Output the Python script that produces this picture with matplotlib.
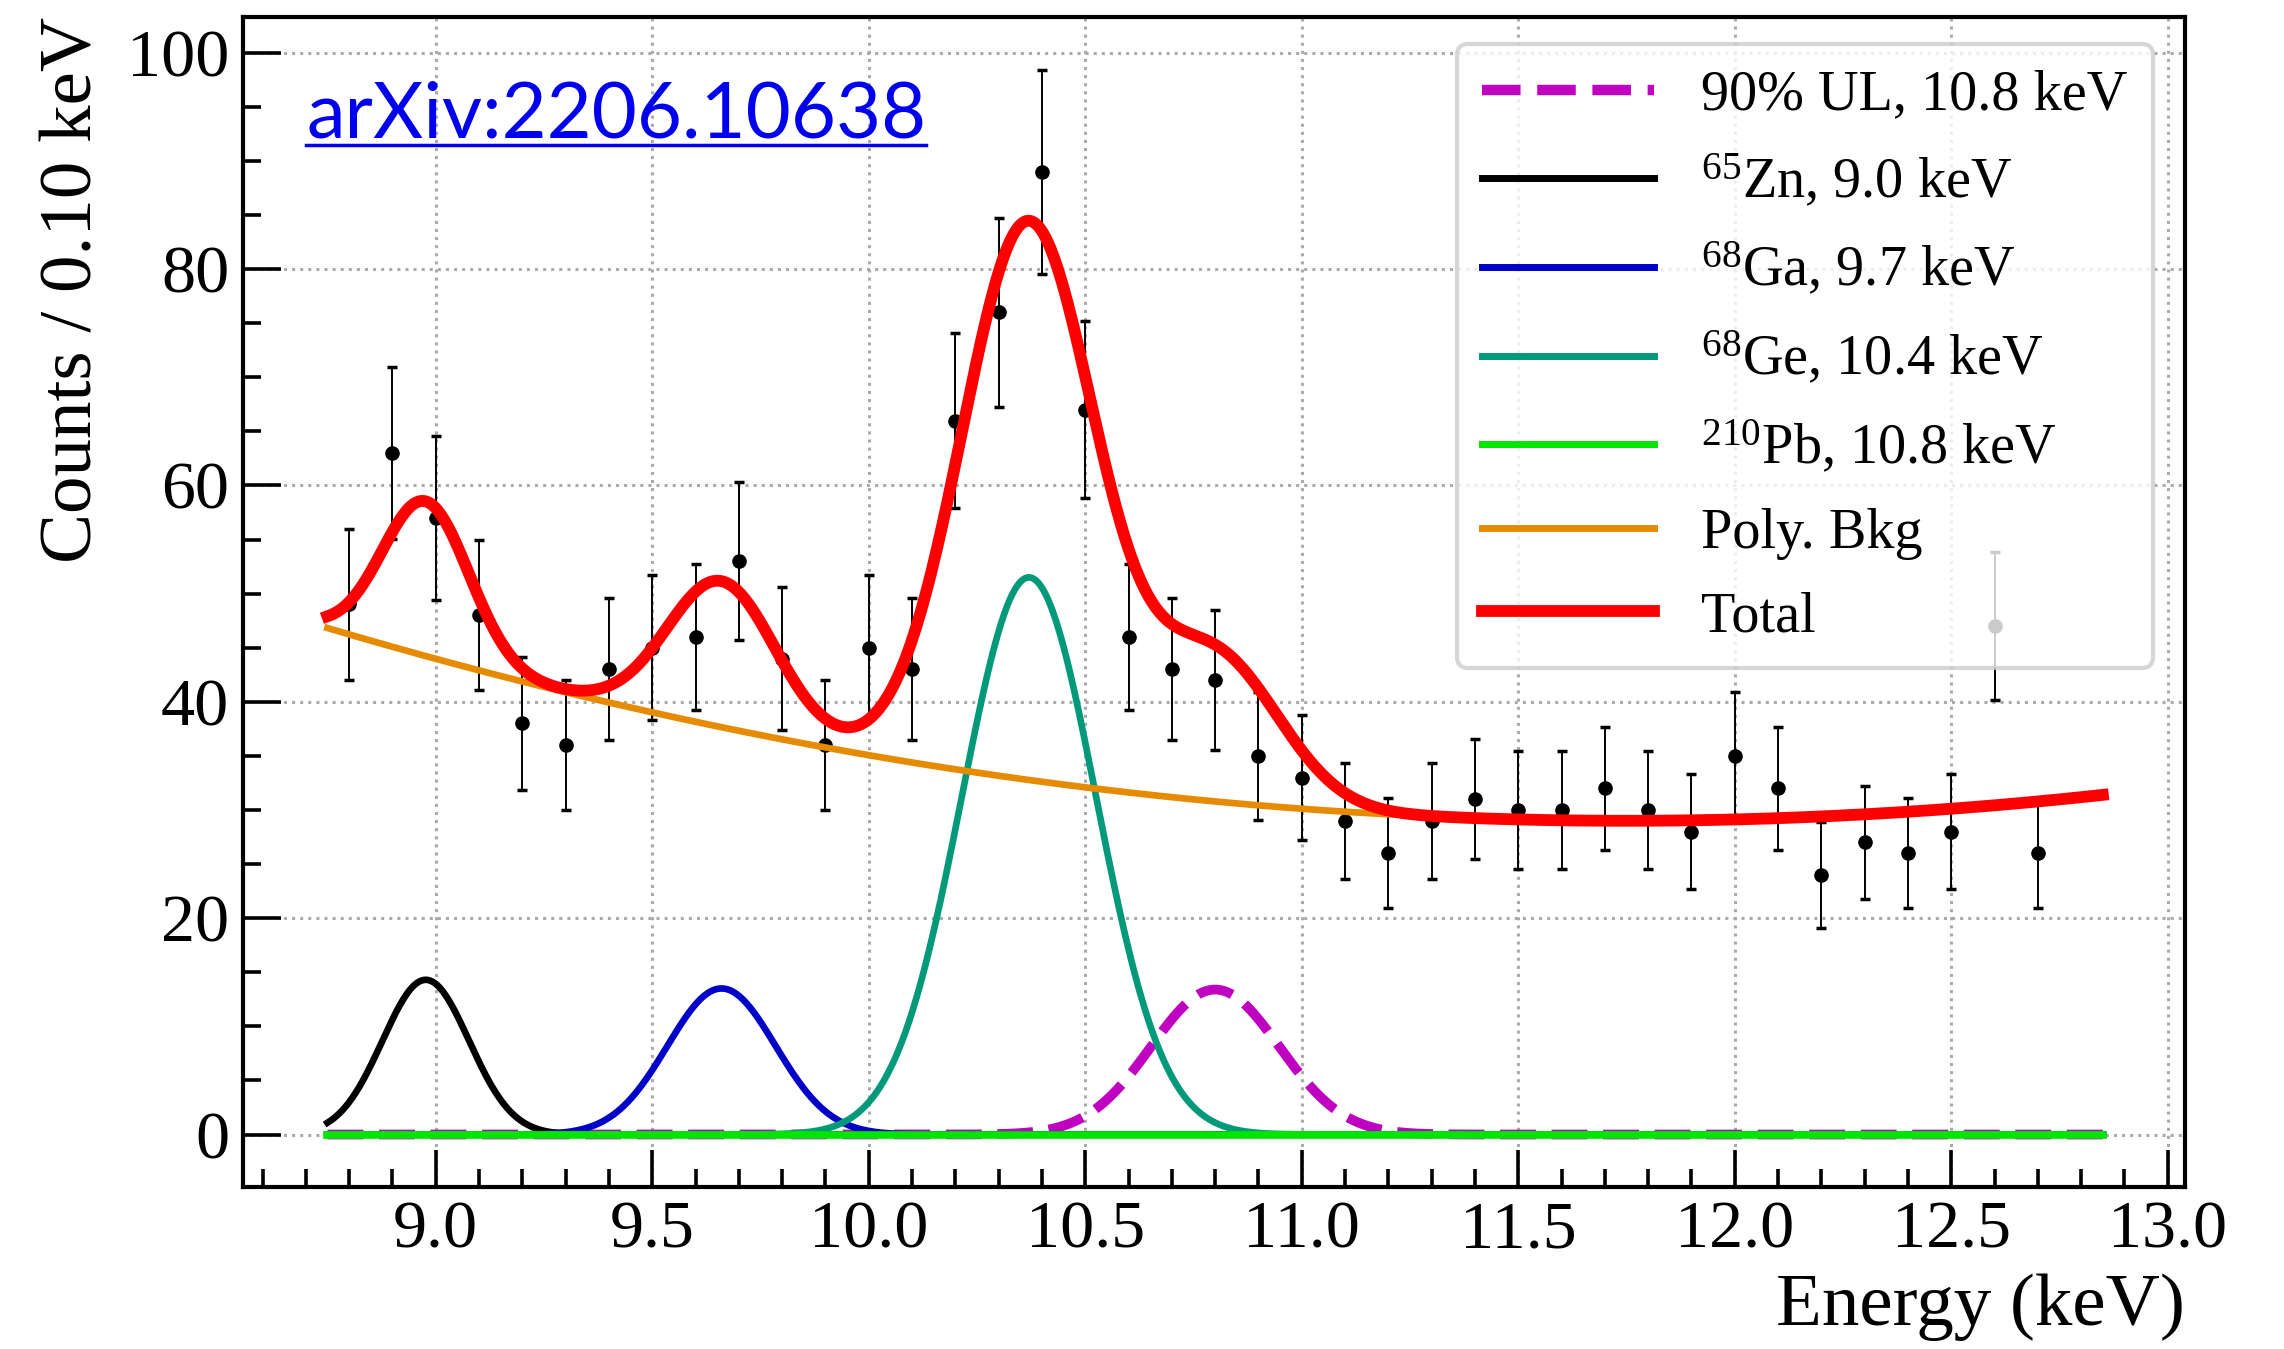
import numpy as np
import matplotlib
matplotlib.use('Agg')
import matplotlib.pyplot as plt
from matplotlib.lines import Line2D
from matplotlib.ticker import MultipleLocator, FormatStrFormatter

plt.rcParams['font.family'] = ['Liberation Serif', 'DejaVu Serif']
plt.rcParams['mathtext.fontset'] = 'custom'
plt.rcParams['mathtext.rm'] = 'Liberation Serif'
plt.rcParams['mathtext.it'] = 'Liberation Serif:italic'

# Binned spectrum, 0.10 keV bins
energy = [8.8, 8.9, 9.0, 9.1, 9.2, 9.3, 9.4, 9.5, 9.6, 9.7,
          9.8, 9.9, 10.0, 10.1, 10.2, 10.3, 10.4, 10.5, 10.6, 10.7,
          10.8, 10.9, 11.0, 11.1, 11.2, 11.3, 11.4, 11.5, 11.6, 11.7,
          11.8, 11.9, 12.0, 12.1, 12.2, 12.3, 12.4, 12.5, 12.6, 12.7]
counts = [49, 63, 57, 48, 38, 36, 43, 45, 46, 53,
          44, 36, 45, 43, 66, 76, 89, 67, 46, 43,
          42, 35, 33, 29, 26, 29, 31, 30, 30, 32,
          30, 28, 35, 32, 24, 27, 26, 28, 47, 26]

# Fitted line parameters: centroid (keV), height (counts/bin), sigma (keV)
zn_pars = [8.977, 14.3, 0.100]
ga_pars = [9.660, 13.5, 0.125]
ge_pars = [10.370, 51.5, 0.155]
pb_pars = [10.800, 0.0, 0.148]
ul_pars = [10.800, 13.4, 0.148]   # 90% upper limit on the 210Pb line

# Quadratic background: minimum value, position of minimum, curvature
bkg_pars = [29.0, 11.75, 1.98]
fit_range = [8.75, 12.85]


def gauss(x, mu, amp, sig):
    return amp * np.exp(-0.5 * ((x - mu) / sig) ** 2)


def poly_bkg(x, b0, x0, b2):
    return b0 + b2 * (x - x0) ** 2


E = np.linspace(fit_range[0], fit_range[1], 1000)
zn = gauss(E, *zn_pars)
ga = gauss(E, *ga_pars)
ge = gauss(E, *ge_pars)
pb = gauss(E, *pb_pars)
ul = gauss(E, *ul_pars)
bkg = poly_bkg(E, *bkg_pars)
total = bkg + zn + ga + ge + ul

c_ul = '#c000c0'
c_zn = 'black'
c_ga = '#0000c8'
c_ge = '#009a7a'
c_pb = '#00e600'
c_bkg = '#e68a00'
c_tot = '#ff0000'

fig = plt.figure(figsize=(22.84, 13.49), dpi=100)
ax = fig.add_axes([0.1064, 0.1201, 0.8503, 0.8673])

ax.errorbar(energy, counts, yerr=np.sqrt(counts), fmt='o', color='k',
            ms=9.5, elinewidth=1.4, capsize=3.5, capthick=2.5, zorder=2)

ax.plot(E, ul, '--', color=c_ul, lw=7, zorder=3)
ax.plot(E, zn, color=c_zn, lw=4.8, zorder=3)
ax.plot(E, ga, color=c_ga, lw=4.8, zorder=3)
ax.plot(E, ge, color=c_ge, lw=4.8, zorder=3)
ax.plot(E, pb, color=c_pb, lw=5.5, zorder=3)
ax.plot(E, bkg, color=c_bkg, lw=4.8, zorder=3)
ax.plot(E, total, color=c_tot, lw=8.5, zorder=4)

ax.set_xlim(8.555, 13.04)
ax.set_ylim(-4.85, 103.3)

ax.xaxis.set_major_locator(MultipleLocator(0.5))
ax.xaxis.set_minor_locator(MultipleLocator(0.1))
ax.xaxis.set_major_formatter(FormatStrFormatter('%.1f'))
ax.yaxis.set_major_locator(MultipleLocator(20))
ax.yaxis.set_minor_locator(MultipleLocator(5))
ax.tick_params(which='both', direction='in', top=False, right=False,
               labelsize=49, width=2.6)
ax.tick_params(which='major', length=27, pad=10)
ax.tick_params(which='minor', length=13)
for sp in ax.spines.values():
    sp.set_linewidth(3)

ax.set_axisbelow(True)
ax.grid(True, which='major', linestyle=':', color='#aaaaaa', lw=2.2)

ax.set_xlabel('Energy (keV)', fontsize=54, loc='right', labelpad=8)
ax.set_ylabel('Counts / 0.10 keV', fontsize=54, loc='top', labelpad=14)

handles = [
    Line2D([], [], color=c_ul, ls='--', lw=7.5),
    Line2D([], [], color=c_zn, lw=5),
    Line2D([], [], color=c_ga, lw=5),
    Line2D([], [], color=c_ge, lw=5),
    Line2D([], [], color=c_pb, lw=5),
    Line2D([], [], color=c_bkg, lw=5),
    Line2D([], [], color=c_tot, lw=8.5),
]
labels = [
    '90% UL, 10.8 keV',
    r'$^{65}$Zn, 9.0 keV',
    r'$^{68}$Ga, 9.7 keV',
    r'$^{68}$Ge, 10.4 keV',
    r'$^{210}$Pb, 10.8 keV',
    'Poly. Bkg',
    'Total',
]
leg = ax.legend(handles, labels, loc='upper right', bbox_to_anchor=(0.9835, 0.977),
                borderaxespad=0, fontsize=40.5, handlelength=3.05, handletextpad=0.85,
                labelspacing=0.56, borderpad=0.45, framealpha=0.8, fancybox=True)
leg.get_frame().set_edgecolor('#cccccc')
leg.get_frame().set_linewidth(3)

link = ax.text(0.0325, 0.8974, 'arXiv:2206.10638', transform=ax.transAxes,
               fontsize=56, color='#0000ee', family='Lato',
               va='baseline', ha='left')

# underline the link text
fig.canvas.draw()
bb = link.get_window_extent().transformed(ax.transAxes.inverted())
ax.plot([bb.x0, bb.x1], [0.8905, 0.8905], transform=ax.transAxes,
        color='#0000ee', lw=2.5, clip_on=False)

fig.savefig('out.png', dpi=100)
